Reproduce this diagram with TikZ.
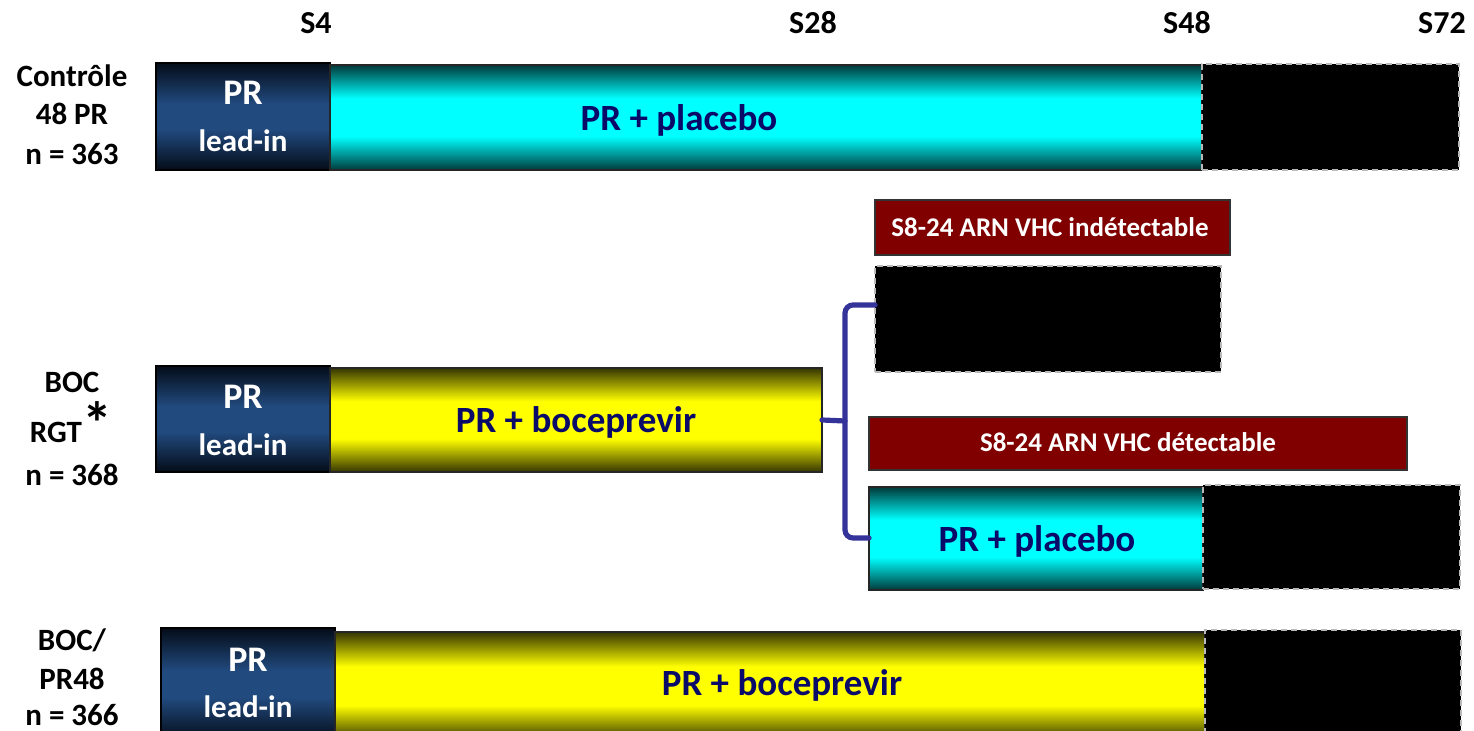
\documentclass[tikz,border=0pt]{standalone}
\usepackage{fontspec}
\setmainfont{Carlito}
\usetikzlibrary{calc}
\definecolor{leadedge}{HTML}{040C18}
\definecolor{leadmid}{HTML}{214A7E}
\definecolor{cyanedge}{HTML}{003A3A}
\definecolor{yellowedge}{HTML}{353500}
\definecolor{darkred}{HTML}{800000}
\definecolor{navytext}{HTML}{0A0A68}
\definecolor{bracketblue}{HTML}{333399}
\pgfdeclareverticalshading{cyanshade}{100bp}{color(0bp)=(cyanedge); color(25bp)=(cyanedge); color(41bp)=(cyan); color(59bp)=(cyan); color(75bp)=(cyanedge); color(100bp)=(cyanedge)}
\pgfdeclareverticalshading{yellowshade}{100bp}{color(0bp)=(yellowedge); color(25bp)=(yellowedge); color(41bp)=(yellow); color(59bp)=(yellow); color(75bp)=(yellowedge); color(100bp)=(yellowedge)}
\pgfdeclareverticalshading{leadshade}{100bp}{color(0bp)=(leadedge); color(25bp)=(leadedge); color(44bp)=(leadmid); color(56bp)=(leadmid); color(75bp)=(leadedge); color(100bp)=(leadedge)}
\tikzset{
  box/.style={anchor=north west, inner sep=0pt, outer sep=0pt, rectangle},
  leadin/.style={box, draw=black, line width=1pt, shading=leadshade},
  cyanbar/.style={box, draw=black!85, line width=0.8pt, shading=cyanshade},
  yellowbar/.style={box, draw=black!85, line width=0.8pt, shading=yellowshade},
  blackbox/.style={box, fill=black, draw=gray!55, line width=1pt, dash pattern=on 3pt off 2pt},
  redbox/.style={box, fill=darkred, draw=black!80, line width=0.8pt},
  rowlab/.style={anchor=base, inner sep=0pt, font=\bfseries\fontsize{15.5}{18}\selectfont, text=black},
  toplab/.style={anchor=base, inner sep=0pt, font=\bfseries\fontsize{16}{19}\selectfont, text=black},
  prlab/.style={anchor=base, inner sep=0pt, font=\bfseries\fontsize{18}{21}\selectfont, text=white},
  leadlab/.style={anchor=base, inner sep=0pt, font=\bfseries\fontsize{15.5}{18}\selectfont, text=white},
  bartext/.style={anchor=base, inner sep=0pt, font=\bfseries\fontsize{18.5}{22}\selectfont, text=navytext},
  redtext/.style={anchor=base, inner sep=0pt, font=\bfseries\fontsize{13.5}{16}\selectfont, text=white},
  bracket/.style={draw=bracketblue, line width=2.6pt, rounded corners=4pt, line cap=round}
}
\begin{document}
\begin{tikzpicture}[x=0.5pt,y=-0.5pt]
\useasboundingbox (0,0) rectangle (1474,731);
% week labels
\node[toplab] (s4) at (316,34) {S4};
\node[toplab] (s28) at (813,34) {S28};
\node[toplab] (s48) at (1187,34) {S48};
\node[toplab] (s72) at (1442,34) {S72};
% row 1
\node[rowlab] (a1) at (72,87) {Contrôle};
\node[rowlab] (a2) at (72,125) {48 PR};
\node[rowlab] (a3) at (72,165) {n = 363};
\node[leadin, minimum width=87pt, minimum height=53.5pt] (l1) at (156,63) {};
\node[cyanbar, minimum width=436pt, minimum height=52.5pt] (c1) at (330,65) {};
\node[blackbox, minimum width=128.5pt, minimum height=53pt] (k1) at (1202,64) {};
\node[prlab] (p1) at (243,105) {PR};
\node[leadlab] (q1) at (243,152) {lead-in};
\node[bartext] (t1) at (679,131) {PR + placebo};
% row 2
\node[rowlab] (b1) at (72,393) {BOC};
\node[rowlab] (b2) at (56,443) {RGT};
\node[anchor=north, inner sep=0pt, font=\bfseries\fontsize{30}{32}\selectfont] (b2s) at (97,401) {*};
\node[rowlab] (b3) at (72,486) {n = 368};
\node[leadin, minimum width=87pt, minimum height=53pt] (l2) at (156,366) {};
\node[yellowbar, minimum width=246pt, minimum height=52pt] (y2) at (330,368) {};
\node[prlab] (p2) at (243,409) {PR};
\node[leadlab] (q2) at (243,456) {lead-in};
\node[bartext] (t2) at (576,433) {PR + boceprevir};
\node[redbox, minimum width=177.5pt, minimum height=27.5pt] (r1) at (875,200) {};
\node[redtext] (rt1) at (1050,237) {S8-24 ARN VHC indétectable};
\node[blackbox, minimum width=173pt, minimum height=53pt] (k2) at (875,266) {};
\node[redbox, minimum width=269pt, minimum height=26.5pt] (r2) at (869,417) {};
\node[redtext] (rt2) at (1128,452) {S8-24 ARN VHC détectable};
\node[cyanbar, minimum width=167pt, minimum height=51.5pt] (c2) at (869,487) {};
\node[blackbox, minimum width=128.5pt, minimum height=52pt] (k3) at (1203,485) {};
\node[bartext] (t3) at (1037,552) {PR + placebo};
% bracket
\coordinate (bj) at (845,421);
\coordinate (bt) at (875,305);
\coordinate (bb) at (869,538);
\draw[bracket] (y2.east) -- (bj);
\draw[bracket] (bt) -- (845,305) -- (845,538) -- (bb);
% row 3
\node[rowlab] (d1) at (72,651) {BOC/};
\node[rowlab] (d2) at (72,690) {PR48};
\node[rowlab] (d3) at (72,726) {n = 366};
\node[leadin, minimum width=87pt, minimum height=56pt] (l3) at (161,628) {};
\node[yellowbar, minimum width=435pt, minimum height=54pt] (y3) at (335,632) {};
\node[blackbox, minimum width=128pt, minimum height=55pt] (k4) at (1205,630) {};
\node[prlab] (p3) at (248,672) {PR};
\node[leadlab] (q3) at (248,718) {lead-in};
\node[bartext] (t4) at (782,696) {PR + boceprevir};
\end{tikzpicture}
\end{document}
